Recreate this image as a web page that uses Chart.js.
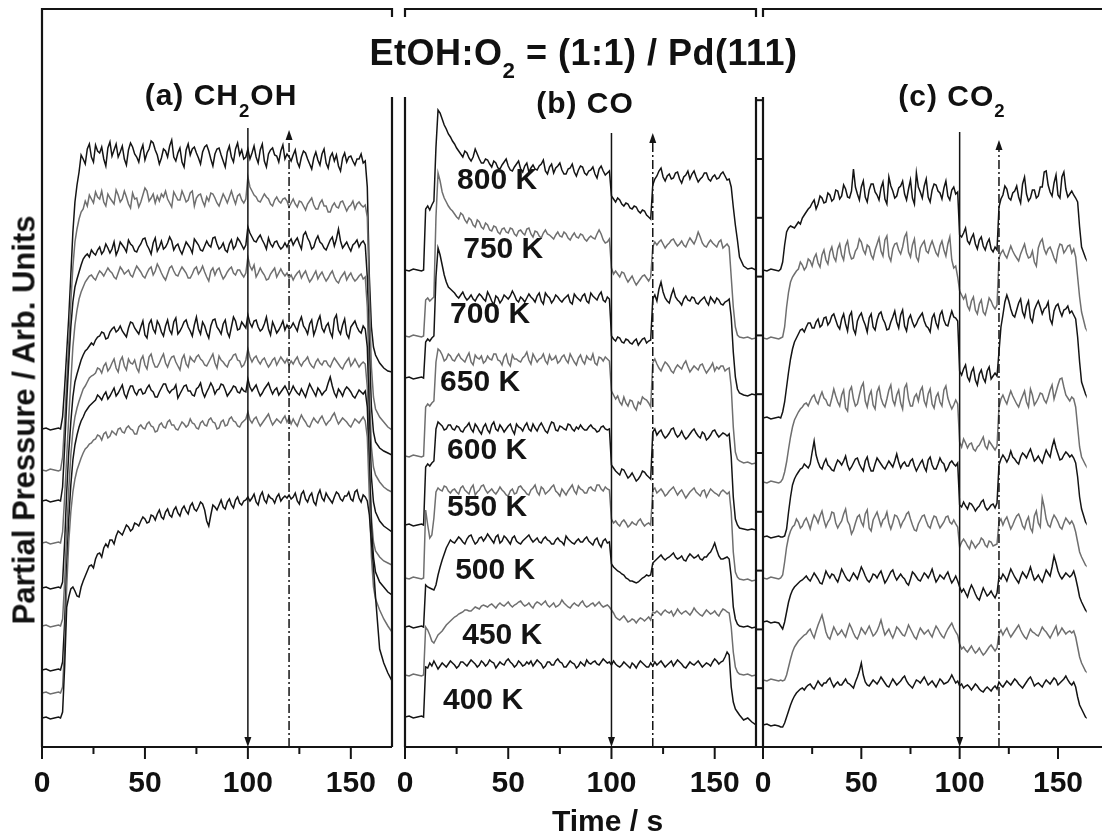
<!DOCTYPE html>
<html>
<head>
<meta charset="utf-8">
<script src="https://cdn.jsdelivr.net/npm/chart.js@4.4.1/dist/chart.umd.min.js"></script>
<style>
  html, body { margin: 0; padding: 0; background: #fff; }
  #wrap { position: relative; width: 1102px; height: 832px; overflow: hidden; background: #fff;
          font-family: "Liberation Sans", Arial, Helvetica, sans-serif; font-weight: bold; color: #111; }
  canvas { position: absolute; top: 0; }
  .txt { position: absolute; white-space: nowrap; line-height: 1; }
  .sb { position: relative; }
  #cover { position: absolute; left: 386px; top: 17px; width: 384px; height: 80px; background: #fff; }
</style>
</head>
<body>
<div id="wrap">
  <canvas id="panelA" width="430" height="832" style="left:0px"></canvas>
  <canvas id="panelB" width="420" height="832" style="left:370px"></canvas>
  <canvas id="panelC" width="372" height="832" style="left:730px"></canvas>
  <div id="cover"></div>
  <div class="txt" style="left:583.5px; top:34.5px; font-size:36px; letter-spacing:0.5px; transform:translateX(-50%);">EtOH:O<span class="sb" style="font-size:0.62em; top:13px;">2</span> = (1:1) / Pd(111)</div>
  <div class="txt" style="left:221px; top:79.6px; font-size:30px; letter-spacing:1px; transform:translateX(-50%);">(a) CH<span class="sb" style="font-size:0.62em; top:12px;">2</span>OH</div>
  <div class="txt" style="left:585px; top:87.6px; font-size:30px; letter-spacing:1px; transform:translateX(-50%);">(b) CO</div>
  <div class="txt" style="left:952px; top:80.6px; font-size:30px; letter-spacing:1px; transform:translateX(-50%);">(c) CO<span class="sb" style="font-size:0.62em; top:11px;">2</span></div>
  <div class="txt" style="left:23.5px; top:420px; font-size:31px; transform:translate(-50%,-50%) rotate(-90deg);">Partial Pressure / Arb. Units</div>
  <div class="txt" style="left:607.5px; top:805.6px; font-size:30px; transform:translateX(-50%);">Time / s</div>
</div>

<script>
// Sampling times (s), shared by every trace
const TIME_S = [0,2,4,6,8,
  9,10,11,12,13,14,15,16,17,18,19,20,21,22,23,24,25,26,27,28,29,30,31,32,33,34,35,36,37,38,39,40,
  41,42,43,44,45,46,47,48,49,50,51,52,53,54,55,56,57,58,59,60,61,62,63,64,65,66,67,68,69,70,
  71,72,73,74,75,76,77,78,79,80,81,82,83,84,85,86,87,88,89,90,91,92,93,94,95,96,97,98,99,100,
  101,102,103,104,105,106,107,108,109,110,111,112,113,114,115,116,117,118,119,120,121,122,123,124,125,126,127,128,129,130,
  131,132,133,134,135,136,137,138,139,140,141,142,143,144,145,146,147,148,149,150,151,152,153,154,155,156,157,158,159,160,
  161,162,164,166,168,170];

const TEMPERATURES = ['400 K','450 K','500 K','550 K','600 K','650 K','700 K','750 K','800 K'];
const TIME_TICKS = [0, 25, 50, 75, 100, 125, 150];
const STEP_TIMES = [100, 120];

// (a) CH2OH partial pressure, stacked traces (arb. units)
const CH2OH_400 = [29,30,28,29,30, 29,35,80,140,150,158,160,156,
  151,150,160,166,171,176,181,182,179,188, 193,194,190,199,203,200,207,207,203,211, 216,214,212,217,222,220,216,218,224,223, 221,226,230,228,224,225,232,231,227,233,
  237,230,228,235,238,232,230,237,240,234, 231,238,241,236,233,241,244,238,236,240, 245,243,237,226,221,232,242,240,237,242, 247,240,238,245,248,242,239,247,250,244, 242,246,
  247,250,246, 249,253,245,242,251,255,247,244,252,249,248,244,250,253,246,249,251, 249,252,248,
  250,254,246,243,253,256,248,245,251,254,245,242,252,257,249,246,254,250,247,244,250,255,253,248,246,251,251,255,248,246,255,257,249,245,252,
  250,246,232,205,180, 150,98,84,74,66];
const CH2OH_450 = [54,55,53,54,55, 54,60,100,160,205,235,255,268,
  277,283,289,294,298,300,303,304,307,308, 312,311,307,313,315,309,311,316,314,312, 318,319,315,314,319,321,318,317,313,313, 320,322,319,318,323,325,321,320,315,316,
  322,324,320,319,325,327,322,322,318,317, 321,325,323,320,322,328,324,323,319,318, 324,326,322,321,327,329,325,324,318,319, 325,327,321,322,328,330,326,325,321,320, 324,326,
  328,335,327, 324,328,330,325,321,324,327,330,333,327,322,325,328,326,324,328,331, 325,329,323,
  328,324,321,327,332,328,325,321,320,325,329,326,324,328,331,326,322,325,327,331,334,328,323,326,329,327,325,322,320,324,328,326,324,327,330,
  326,310,250,190,160, 148,137,128,121,115];
const CH2OH_500 = [77,78,76,77,78, 77,85,125,180,228,262,287,302,
  312,320,326,330,335,338,341,343,345,347, 352,350,347,352,355,348,351,355,359,351, 354,358,362,353,349,356,361,361,355,352, 357,358,353,354,359,362,357,355,350,350,
  355,359,363,363,357,354,357,358,362,349, 353,357,361,362,356,356,352,351,358,360, 364,355,350,355,359,364,360,353,357,358, 363,362,357,351,354,357,361,360,355,354, 359,356,
  355,368,360, 356,359,362,356,351,354,358,361,364,358,353,357,359,352,355,358,361, 357,352,356,
  361,357,354,352,358,354,350,357,363,359,355,351,359,356,352,355,357,364,370,361,354,350,358,355,351,357,360,358,355,351,349,353,357,355,353,
  356,340,280,220,190, 175,165,160,155,152];
const CH2OH_550 = [121,122,120,121,122, 121,128,165,215,258,292,316,330,
  339,346,352,358,361,365,369,371,372,374, 379,378,374,381,384,376,379,384,388,379, 375,386,390,381,377,388,384,383,387,379, 375,387,391,382,378,390,393,385,380,380,
  384,389,393,384,380,386,390,391,385,381, 377,388,392,383,380,390,387,385,390,392, 388,386,382,381,385,389,393,384,379,391, 387,385,382,380,386,388,392,393,387,386, 380,382,
  387,398,390, 385,389,391,386,383,387,389,384,380,383,387,389,382,386,390,387,384, 388,382,386,
  383,387,390,384,381,385,387,390,384,381,379,385,388,384,382,386,386,382,380,385,389,386,383,380,378,383,386,389,381,384,388,384,380,383,385,
  383,360,290,230,205, 196,190,186,184,182];
const CH2OH_600 = [159,160,158,159,160, 159,165,205,255,295,325,350,365,
  373,380,387,392,396,398,401,404,402,407, 410,411,415,414,408,409,415,418,420,415, 417,421,416,413,410,419,425,424,419,416, 413,420,426,412,409,423,427,418,414,426,
  422,415,411,421,427,417,413,425,429,413, 416,420,425,427,420,416,411,422,430,418, 413,425,421,414,409,421,427,428,420,417, 413,423,427,415,410,420,430,426,417,418, 425,422,
  419,432,424, 420,426,427,420,416,418,423,430,418,412,425,420,414,417,421,426,417, 422,418,420,
  424,420,416,425,430,421,418,413,423,427,412,418,426,431,419,415,421,424,415,410,428,432,417,413,422,428,413,409,420,423,426,420,416,414,421,
  418,400,330,270,245, 235,226,221,218,215];
const CH2OH_650 = [204,205,203,204,205, 204,215,250,290,330,365,400,422,
  437,448,455,460,465,468,471,472,469,467, 472,476,474,471,475,479,476,474,470,468, 474,480,477,473,475,477,472,470,476,481, 478,475,471,469,474,478,480,472,476,483,
  479,474,470,467,473,479,481,476,472,471, 476,480,477,474,469,469,473,478,480,473, 476,481,475,470,466,476,479,472,477,479, 473,468,471,475,478,480,474,472,477,477, 473,470,
  474,490,481, 477,482,470,474,479,475,472,467,468,473,476,479,470,474,478,474,471, 474,469,472,
  467,471,474,476,469,473,476,470,465,468,472,476,468,472,475,470,466,469,473,476,470,466,464,469,472,475,467,471,474,469,466,468,471,473,468,
  470,440,360,300,280, 272,265,260,257,255];
const CH2OH_700 = [246,247,245,246,247, 246,260,300,345,385,420,445,460,
  468,475,482,488,491,493,490,497,494,492, 497,500,493,496,503,499,494,498,505,492, 497,505,502,499,495,507,503,501,496,495, 500,503,508,509,502,498,493,504,509,496,
  500,506,498,500,504,510,506,497,501,503, 497,493,499,505,502,499,494,508,505,502, 497,496,501,506,502,500,509,510,503,498, 500,504,497,495,503,507,498,501,509,506, 502,498,
  502,520,514, 510,506,505,509,512,507,503,498,509,503,500,505,506,501,498,500,504, 500,505,508,
  502,506,509,503,498,512,515,509,505,498,500,507,511,505,503,499,497,502,507,510,501,508,518,506,499,502,505,500,496,502,504,507,500,504,506,
  502,470,400,340,315, 305,299,296,294,292];
const CH2OH_750 = [277,276,278,277,276, 277,290,325,365,405,445,480,505,
  518,528,535,538,546,541,552,548,544,555, 550,548,556,545,541,553,549,546,543,557, 552,545,548,556,550,543,539,554,548,549, 540,545,552,559,556,546,549,553,544,551,
  546,553,550,556,548,544,540,555,551,547, 547,556,551,545,547,554,556,541,549,552, 553,546,541,550,546,554,553,549,544,541, 547,553,549,544,550,556,549,543,551,553, 547,544,
  548,570,560, 556,552,550,546,545,549,553,550,548,543,541,547,550,546,544,548,549, 546,540,544,
  548,543,540,546,545,541,537,543,546,549,542,538,538,544,547,541,541,535,535,541,544,540,539,545,546,541,536,540,542,546,538,543,545,542,540,
  542,530,450,380,350, 338,330,325,320,317];
const CH2OH_800 = [318,319,317,318,319, 318,330,360,395,430,472,515,545,
  562,575,592,588,583,598,603,590,585,602, 596,594,600,588,581,599,605,591,597,603, 590,595,601,588,582,597,604,600,593,590, 585,596,602,587,594,598,606,604,597,592,
  583,589,598,596,590,601,607,590,586,594, 599,585,580,597,603,592,598,600,594,589, 583,595,600,602,596,588,581,593,598,599, 592,586,580,595,601,590,585,598,604,592, 597,588,
  590,598,588, 594,601,590,584,597,603,586,580,593,597,599,592,591,585,596,602,588, 593,590,586,
  592,597,585,580,590,596,594,588,583,578,589,595,587,582,593,598,584,579,590,594,586,592,581,576,589,594,585,590,591,586,582,588,588,593,584,
  586,560,470,420,400, 392,384,379,376,375];

// (b) CO partial pressure
const CO_400 = [30,31,29,30,31, 30,80,79,84,81,86,82,78,
  81,84,82,80,83,86,84,82,79,81, 85,85,83,81,84,87,85,83,80,82, 86,84,81,83,87,85,84,79,82,85, 83,82,86,88,85,83,80,82,86,84,
  81,82,85,83,86,81,84,87,85,83, 79,81,85,85,82,82,86,88,85,84, 80,80,83,86,84,83,79,81,85,83, 81,87,84,83,85,86,83,82,85,88, 86,84,
  85,82,86, 83,81,80,82,85,83,81,79,84,82,79,83,86,84,82,80,80, 84,81,85,
  82,84,86,83,80,82,84,86,81,84,87,85,83,80,79,82,85,83,82,84,86,83,80,82,84,83,81,85,88,86,83,85,86,90,95,
  92,60,45,38,35, 32,27,29,25,22];
const CO_450 = [72,71,73,72,71, 72,120,117,112,106,104,108,112,
  114,116,119,122,124,126,128,130,131,133, 134,135,137,137,136,136,138,140,139,138, 141,142,141,140,142,143,141,139,142,144, 142,141,143,145,142,140,142,143,145,146,
  143,141,142,144,141,139,143,145,144,142, 144,146,142,140,142,144,140,141,143,147, 144,142,140,139,142,144,142,141,144,146, 142,140,141,143,144,141,143,145,142,140, 141,142,
  140,137,134, 130,128,127,129,131,128,125,126,128,127,124,127,129,128,126,128,130, 127,135,134,
  136,134,132,135,137,135,134,136,131,134,138,135,133,135,136,134,132,135,139,136,134,132,131,134,137,135,133,134,136,133,131,135,138,137,135,
  134,120,95,80,75, 73,72,73,71,72];
const CO_500 = [120,121,119,120,121, 120,162,160,159,158,157,162,172,
  180,187,193,199,203,207,205,204,207,210, 208,205,203,208,211,212,207,203,205,209, 210,206,209,213,210,207,204,210,212,204, 206,211,209,206,203,209,211,206,204,203,
  206,208,210,212,208,205,207,209,205,204, 208,210,207,206,203,203,207,209,206,205, 202,211,208,206,204,203,206,208,205,205, 208,210,206,204,202,207,209,203,200,206, 208,204,
  205,183,180, 178,176,175,173,172,169,168,166,166,165,164,165,167,169,170,172,171, 172,184,186,
  188,190,192,189,187,189,190,192,194,190,188,189,191,187,186,190,193,191,189,190,192,188,187,190,190,193,195,199,204,197,191,188,188,189,190,
  188,170,140,128,123, 121,120,121,119,120];
const CO_550 = [169,168,170,169,168, 169,237,222,209,212,229,255,259,
  257,256,261,260,256,254,257,258,255,253, 259,261,257,255,253,259,262,252,255,257, 261,262,257,254,256,258,255,253,256,260, 257,255,252,251,256,258,253,254,260,261,
  258,256,253,252,257,259,262,255,252,260, 258,253,255,257,260,262,256,254,251,258, 255,252,256,259,262,256,253,261,258,257, 254,254,259,260,257,256,262,262,258,256, 260,258,
  257,228,224, 226,223,221,225,227,224,220,222,225,223,222,226,228,224,221,223,224, 222,257,259,
  254,256,258,255,251,253,256,258,260,256,252,255,257,253,249,252,255,257,259,255,253,251,256,257,250,254,258,256,254,253,251,255,257,255,253,
  255,235,195,175,170, 168,167,168,166,167];
const CO_600 = [222,223,221,222,223, 222,280,283,281,284,286,318,325,
  323,321,317,318,322,322,318,317,321,320, 316,315,319,321,324,318,315,323,320,316, 313,320,323,317,314,322,325,318,316,322, 319,315,318,321,323,317,313,323,320,319,
  316,321,324,318,316,323,319,316,321,324, 320,316,314,320,325,324,317,316,321,320, 318,317,323,322,318,316,320,318,322,319, 317,317,320,322,319,318,315,316,320,321, 318,317,
  318,282,279, 276,274,272,278,277,273,269,271,274,270,266,268,271,276,275,272,270, 268,315,318,
  312,315,317,312,309,311,314,318,319,313,310,312,316,311,308,310,313,316,318,314,311,309,315,313,307,309,312,316,317,313,310,312,314,313,311,
  313,290,250,228,222, 219,218,217,218,217];
const CO_650 = [291,290,292,291,290, 291,340,343,341,344,346,385,398,
  396,392,386,388,393,391,387,386,390,393, 389,387,385,390,394,385,382,392,389,388, 391,384,386,391,388,387,393,393,387,386, 382,390,393,384,381,392,388,388,386,385,
  389,391,395,387,383,393,389,385,388,389, 393,386,383,392,387,388,391,384,386,390, 392,387,384,393,389,385,382,389,392,386, 383,391,388,387,393,384,382,390,389,386, 390,388,
  386,356,352, 348,351,345,342,350,344,341,347,346,340,337,345,343,350,348,347,344, 340,384,388,
  383,379,376,381,385,383,380,376,374,379,382,380,378,383,386,380,375,378,381,379,377,382,383,378,374,377,380,384,376,380,378,381,381,376,378,
  379,360,320,295,288, 286,284,285,283,284];
const CO_700 = [369,370,368,369,370, 369,405,408,406,409,411,470,499,
  492,482,472,465,460,458,456,454,451,449, 452,455,450,447,449,452,448,446,450,453, 451,448,446,455,451,446,442,451,449,444, 447,452,450,448,451,456,452,447,445,450,
  448,445,449,453,450,448,445,451,454,446, 443,454,451,449,444,447,452,450,447,445, 448,450,452,445,443,453,450,448,446,451, 453,446,444,454,451,449,447,452,455,447, 445,450,
  448,411,408, 406,410,409,405,404,408,407,404,403,406,408,402,405,408,409,404,406, 407,448,452,
  446,458,465,455,449,446,444,452,458,450,447,445,442,448,451,447,446,450,449,444,443,446,448,450,445,442,450,447,444,449,447,443,442,445,446,
  448,430,395,370,358, 354,352,351,353,352];
const CO_750 = [411,410,412,411,410, 411,447,449,446,448,450,530,574,
  566,555,549,545,541,538,536,533,530,528, 534,532,527,524,529,527,522,520,527,525, 520,518,524,522,517,516,521,520,515,513, 518,519,515,514,519,518,513,511,516,517,
  514,512,518,519,513,510,516,515,511,509, 514,517,513,512,510,508,512,515,511,510, 515,513,509,507,511,514,510,509,513,512, 508,506,509,511,509,508,513,517,513,507, 504,505,
  508,479,473, 476,473,470,475,474,469,465,468,471,466,462,465,468,471,472,469,466, 470,500,505,
  502,505,507,503,499,502,504,507,508,504,501,503,506,502,500,505,509,506,503,508,515,510,504,501,500,504,507,504,502,500,505,507,499,501,503,
  500,470,440,420,412, 410,409,410,408,409];
const CO_800 = [477,476,478,477,476, 477,538,541,537,542,546,600,637,
  634,628,622,618,613,610,606,603,599,596, 593,590,596,594,589,586,590,598,593,588, 584,584,588,587,583,580,586,584,579,578, 582,585,588,581,577,576,580,583,586,578,
  575,581,584,575,579,582,578,577,581,583, 587,576,573,580,583,574,579,581,584,577, 573,573,578,579,583,575,571,577,581,580, 574,572,576,577,580,573,569,578,581,576, 572,574,
  576,551,548, 545,549,547,543,541,544,543,539,538,541,540,536,534,537,536,532,530, 528,562,568,
  571,576,579,570,566,571,573,568,569,574,575,568,564,570,572,576,568,573,576,570,565,568,570,574,574,568,566,570,572,568,569,573,575,571,567,
  568,560,540,522,507, 490,481,478,479,477];

// (c) CO2 partial pressure
const CO2_400 = [22,23,21,22,21, 20,20,24,30,36,42,47,51,
  54,56,58,59,57,60,62,63,60,58, 62,66,63,61,64,64,67,69,64,60, 63,65,62,62,65,68,64,63,61,59, 65,70,76,84,72,65,62,61,64,67,
  65,63,66,70,67,64,61,60,64,68, 65,62,64,66,69,71,66,63,61,59, 63,67,66,64,67,70,66,62,64,66, 63,60,64,68,66,63,64,65,68,72, 68,64,
  66,61,63, 59,61,62,60,57,60,63,61,58,56,55,58,60,58,56,59,61, 58,65,62,
  60,63,66,64,62,65,68,66,63,61,59,62,65,68,70,66,61,63,64,62,60,64,67,65,63,66,69,67,62,64,66,68,71,67,64,
  62,65,60,50,42, 38,30,27,24,22];
const CO2_450 = [67,66,68,67,66, 67,66,67,72,80,88,95,100,
  103,106,108,110,112,113,116,118,113,109, 116,122,127,132,124,115,110,108,114,120, 116,112,114,117,113,110,117,123,119,114, 110,108,113,119,116,113,117,121,116,111,
  113,116,121,127,119,112,115,118,113,109, 114,120,118,115,112,111,116,122,118,114, 110,108,114,119,116,113,115,117,113,110, 116,121,118,114,111,109,114,118,121,124, 119,115,
  112,103,98, 100,97,95,98,101,97,94,96,99,95,92,94,97,100,102,99,96, 99,113,117,
  112,116,119,114,110,113,116,119,122,117,113,110,108,113,118,115,114,112,111,115,120,117,115,112,109,113,117,121,112,115,119,116,113,115,116,
  114,116,110,100,90, 84,76,72,70,68];
const CO2_500 = [125,126,124,125,124, 121,118,125,135,145,152,157,160,
  162,164,166,167,169,171,168,166,170,174, 171,168,164,163,169,176,172,169,173,172, 168,165,171,178,174,170,167,166,170,174, 171,168,174,180,176,171,167,165,168,173,
  172,169,173,176,170,164,167,171,175,177, 171,167,170,173,170,168,164,162,168,175, 173,170,167,166,170,174,172,169,173,178, 171,165,168,172,170,168,172,175,169,164, 167,171,
  166,160,155, 158,154,150,157,162,158,153,149,147,153,159,155,151,153,156,152,149, 154,170,168,
  173,170,166,172,178,174,170,167,164,170,175,172,169,174,180,173,167,169,172,168,165,171,177,174,171,180,191,184,176,171,168,171,174,172,170,
  172,176,169,160,150, 145,137,132,128,126];
const CO2_550 = [169,168,170,169,168, 169,172,185,200,210,216,220,222,
  228,225,219,221,226,229,224,218,226,232, 229,224,231,236,227,220,225,228,235,234, 224,219,223,226,233,238,226,222,213,217, 224,230,232,225,221,233,237,219,216,227,
  231,235,228,221,227,229,235,224,218,224, 232,231,227,220,225,228,233,235,228,222, 217,216,223,227,231,232,226,221,219,226, 231,230,224,219,222,225,230,231,225,223, 227,223,
  220,200,205, 208,205,201,198,206,203,199,202,204,209,207,202,200,206,205,201,202, 203,225,228,
  222,227,230,224,218,222,227,231,233,228,221,218,226,230,219,215,231,236,224,220,249,240,228,222,220,227,232,229,225,220,218,224,229,226,223,
  226,222,215,205,195, 190,182,178,174,171];
const CO2_600 = [210,211,209,210,211, 210,210,211,218,235,250,262,268,
  272,275,278,279,283,281,279,283,295,306, 292,285,280,278,284,288,282,280,277,276, 282,287,285,282,286,291,282,277,280,284, 288,289,283,279,276,286,290,281,276,276,
  283,289,286,283,280,278,282,286,283,280, 286,293,285,279,283,285,281,281,286,288, 281,276,280,284,287,280,276,287,290,282, 278,278,283,289,285,283,276,279,284,286, 283,281,
  284,242,240, 245,241,238,244,243,240,236,239,241,245,247,240,237,239,242,243,239, 244,282,288,
  292,289,285,289,296,290,288,285,283,290,294,292,289,294,298,292,286,288,291,287,284,291,297,293,290,300,307,299,293,287,288,292,295,293,290,
  292,289,284,270,250, 238,225,219,215,212];
const CO2_650 = [265,264,266,265,264, 265,268,275,285,298,310,320,327,
  331,335,338,340,343,344,341,346,350,352, 346,343,350,355,349,347,342,341,349,358, 351,345,341,352,357,339,336,356,360,348, 341,343,352,360,364,346,340,351,356,342,
  338,355,360,349,343,340,348,357,362,347, 342,352,357,344,338,359,363,348,341,341, 350,353,346,356,360,346,341,353,358,343, 339,350,354,345,341,357,361,349,343,338, 342,347,
  343,305,300, 308,304,299,303,304,298,296,300,302,306,310,301,298,306,303,300,297, 301,340,348,
  352,347,343,350,356,351,347,343,340,346,351,356,345,340,358,352,342,345,349,354,353,347,344,350,357,362,348,355,362,368,369,360,352,349,346,
  350,348,340,320,300, 290,282,276,271,268];
const CO2_700 = [329,330,328,329,330, 329,335,345,360,375,388,398,405,
  409,413,417,418,415,420,424,424,419,419, 425,428,420,422,429,430,422,425,431,433, 427,421,418,428,433,423,416,431,435,418, 413,426,431,434,427,422,415,429,433,420,
  417,427,433,435,428,424,417,418,425,430, 436,425,419,432,437,421,416,428,432,425, 420,423,428,431,434,426,421,419,415,429, 433,424,419,432,436,427,422,421,429,436, 430,429,
  426,376,372, 378,382,370,366,375,379,367,362,373,377,369,365,376,380,368,371,374, 371,395,420,
  432,445,452,446,438,432,430,437,444,448,435,430,441,446,429,425,437,442,446,440,433,438,440,445,428,423,436,441,443,436,431,437,438,441,434,
  436,432,428,410,385, 365,353,345,338,333];
const CO2_750 = [409,408,410,409,408, 409,410,420,440,455,465,470,473,
  476,478,485,482,477,480,488,486,481,489, 493,484,480,492,497,487,483,495,500,490, 486,498,503,492,487,501,506,494,488,489, 496,499,508,505,497,493,502,500,492,488,
  497,503,509,496,491,507,511,491,486,498, 503,504,497,493,500,510,514,495,490,502, 508,490,486,499,503,506,496,494,501,506, 500,494,491,501,506,497,491,503,510,487, 479,481,
  470,456,452, 448,452,441,437,446,450,437,433,443,447,435,432,440,449,446,441,438, 442,489,494,
  497,492,489,495,501,496,492,489,486,493,498,503,494,489,490,496,485,481,499,505,508,498,493,498,500,495,489,485,497,503,502,494,497,501,502,
  494,498,490,470,450, 435,419,412,410,409];
const CO2_800 = [477,476,478,477,476, 478,485,502,515,519,521,520,519,
  522,525,523,529,532,535,538,540,544,547, 538,543,551,549,544,545,554,552,546,548, 557,556,548,551,562,558,550,549,556,578, 560,553,547,560,566,550,545,557,563,563,
  555,552,547,559,565,548,543,570,561,556, 549,551,559,561,566,553,547,558,567,549, 543,574,560,555,549,561,568,550,545,557, 563,562,556,554,548,559,566,551,547,557, 560,553,
  555,512,510, 514,519,506,503,509,513,503,498,507,510,501,497,504,508,498,495,500, 497,540,548,
  552,561,558,549,547,554,556,561,550,544,563,570,553,546,549,557,557,549,551,560,560,575,576,562,555,551,564,572,552,549,570,575,558,550,553,
  556,552,549,545,520, 500,489,482,479,477];

const CH2OH_SERIES = [CH2OH_400, CH2OH_450, CH2OH_500, CH2OH_550, CH2OH_600, CH2OH_650, CH2OH_700, CH2OH_750, CH2OH_800];
const CO_SERIES    = [CO_400, CO_450, CO_500, CO_550, CO_600, CO_650, CO_700, CO_750, CO_800];
const CO2_SERIES   = [CO2_400, CO2_450, CO2_500, CO2_550, CO2_600, CO2_650, CO2_700, CO2_750, CO2_800];

// ---- drawing ----
const BLACK = '#141414';
const GRAY = '#6f6f6f';
const FONT = '"Liberation Sans", Arial, Helvetica, sans-serif';
const Y_MAX = 738;

// where the temperature names sit inside panel (b): [time, level]
const CO_LABEL_AT = [[18.4,49],[27.7,114],[24.3,179],[20.4,242],[20.4,299],[17.0,367],[21.8,435],[28.2,500],[25.2,569]];

function arrowHead(ctx, px, tipY, dir) {
  ctx.beginPath();
  ctx.moveTo(px, tipY);
  ctx.lineTo(px - 3.5, tipY - dir * 10);
  ctx.lineTo(px + 3.5, tipY - dir * 10);
  ctx.closePath();
  ctx.fill();
}

const panelDecor = {
  id: 'panelDecor',
  afterDatasetsDraw(chart, _args, o) {
    const { ctx, chartArea: a } = chart;
    const x = chart.scales.x, y = chart.scales.y;
    ctx.save();
    ctx.strokeStyle = BLACK;
    ctx.fillStyle = BLACK;

    // gas switching markers: solid arrow down at 100 s, dash-dot arrow up at 120 s
    ctx.lineWidth = 1.5;
    const xs = x.getPixelForValue(STEP_TIMES[0]);
    const ys = y.getPixelForValue(o.markTops[0]);
    ctx.setLineDash([]);
    ctx.beginPath(); ctx.moveTo(xs, ys); ctx.lineTo(xs, a.bottom - 8); ctx.stroke();
    arrowHead(ctx, xs, a.bottom, 1);
    const xd = x.getPixelForValue(STEP_TIMES[1]);
    const yd = y.getPixelForValue(o.markTops[1]);
    ctx.setLineDash([9, 3, 2, 3]);
    ctx.beginPath(); ctx.moveTo(xd, a.bottom); ctx.lineTo(xd, yd + 8); ctx.stroke();
    ctx.setLineDash([]);
    arrowHead(ctx, xd, yd, -1);

    // frame
    ctx.lineWidth = 2.2;
    const right = o.closed ? a.right : chart.width;
    ctx.beginPath();
    ctx.moveTo(a.left, a.bottom); ctx.lineTo(a.left, a.top); ctx.lineTo(right, a.top);
    if (o.closed) ctx.lineTo(a.right, a.bottom);
    ctx.moveTo(a.left - 1, a.bottom); ctx.lineTo(right, a.bottom);
    ctx.stroke();

    // time ticks, long at labelled values
    ctx.lineWidth = 2;
    TIME_TICKS.forEach(t => {
      if (t > x.max) return;
      const px = x.getPixelForValue(t);
      const len = t % 50 === 0 ? 12 : 7;
      ctx.beginPath(); ctx.moveTo(px, a.bottom); ctx.lineTo(px, a.bottom + len); ctx.stroke();
    });

    // short ticks on the left side of the axis
    if (o.leftTickStep) {
      for (let k = 0; k < o.leftTickCount; k++) {
        const py = y.getPixelForValue(k * o.leftTickStep);
        ctx.beginPath(); ctx.moveTo(a.left - 7, py); ctx.lineTo(a.left, py); ctx.stroke();
      }
    }

    // temperature names
    if (o.labels) {
      ctx.font = 'bold 30px ' + FONT;
      ctx.textAlign = 'left';
      ctx.textBaseline = 'alphabetic';
      o.labels.forEach((pos, i) => {
        ctx.fillText(TEMPERATURES[i], x.getPixelForValue(pos[0]), y.getPixelForValue(pos[1]) + 10.8);
      });
    }
    ctx.restore();
  }
};

function makePanel(id, series, cfg) {
  const datasets = series.map((vals, i) => ({
    label: TEMPERATURES[i],
    data: vals.map((v, j) => ({ x: TIME_S[j], y: v })),
    borderColor: i % 2 === 0 ? BLACK : GRAY,
    borderWidth: 1.5,
    pointRadius: 0,
    tension: 0,
    fill: false
  }));
  return new Chart(document.getElementById(id), {
    type: 'line',
    data: { datasets },
    options: {
      responsive: false,
      animation: false,
      devicePixelRatio: 1,
      layout: { padding: cfg.padding },
      plugins: {
        legend: { display: false },
        tooltip: { enabled: false },
        panelDecor: cfg.decor
      },
      scales: {
        x: {
          type: 'linear', min: 0, max: cfg.xMax,
          afterFit: s => { s.height = 60; },
          grid: { display: false, drawTicks: false },
          border: { display: false },
          ticks: {
            stepSize: 25, includeBounds: false, autoSkip: false, maxRotation: 0, padding: 19,
            color: '#111', font: { family: FONT, size: 30, weight: 'bold' },
            callback: v => (v % 50 === 0 ? String(v) : '')
          }
        },
        y: { type: 'linear', min: 0, max: Y_MAX, display: false }
      }
    },
    plugins: [panelDecor]
  });
}

makePanel('panelA', CH2OH_SERIES, {
  xMax: 170, padding: { left: 42, right: 38, top: 9, bottom: 25 },
  decor: { closed: true, markTops: [619, 617] }
});
makePanel('panelB', CO_SERIES, {
  xMax: 170, padding: { left: 35, right: 34, top: 9, bottom: 25 },
  decor: { closed: true, markTops: [614, 614], labels: CO_LABEL_AT }
});
makePanel('panelC', CO2_SERIES, {
  xMax: 164.6, padding: { left: 33, right: 0, top: 9, bottom: 25 },
  decor: { closed: false, markTops: [615, 607], leftTickStep: 58.8, leftTickCount: 12 }
});

// sanity check on the series lengths
const bad = [];
[CH2OH_SERIES, CO_SERIES, CO2_SERIES].forEach((group, g) => group.forEach((arr, i) => {
  if (arr.length !== TIME_S.length) bad.push(['CH2OH', 'CO', 'CO2'][g] + '_' + TEMPERATURES[i] + ':' + arr.length);
}));
if (bad.length) setTimeout(() => { throw new Error('length mismatch ' + bad.join(', ') + ' vs ' + TIME_S.length); }, 0);
</script>
</body>
</html>
